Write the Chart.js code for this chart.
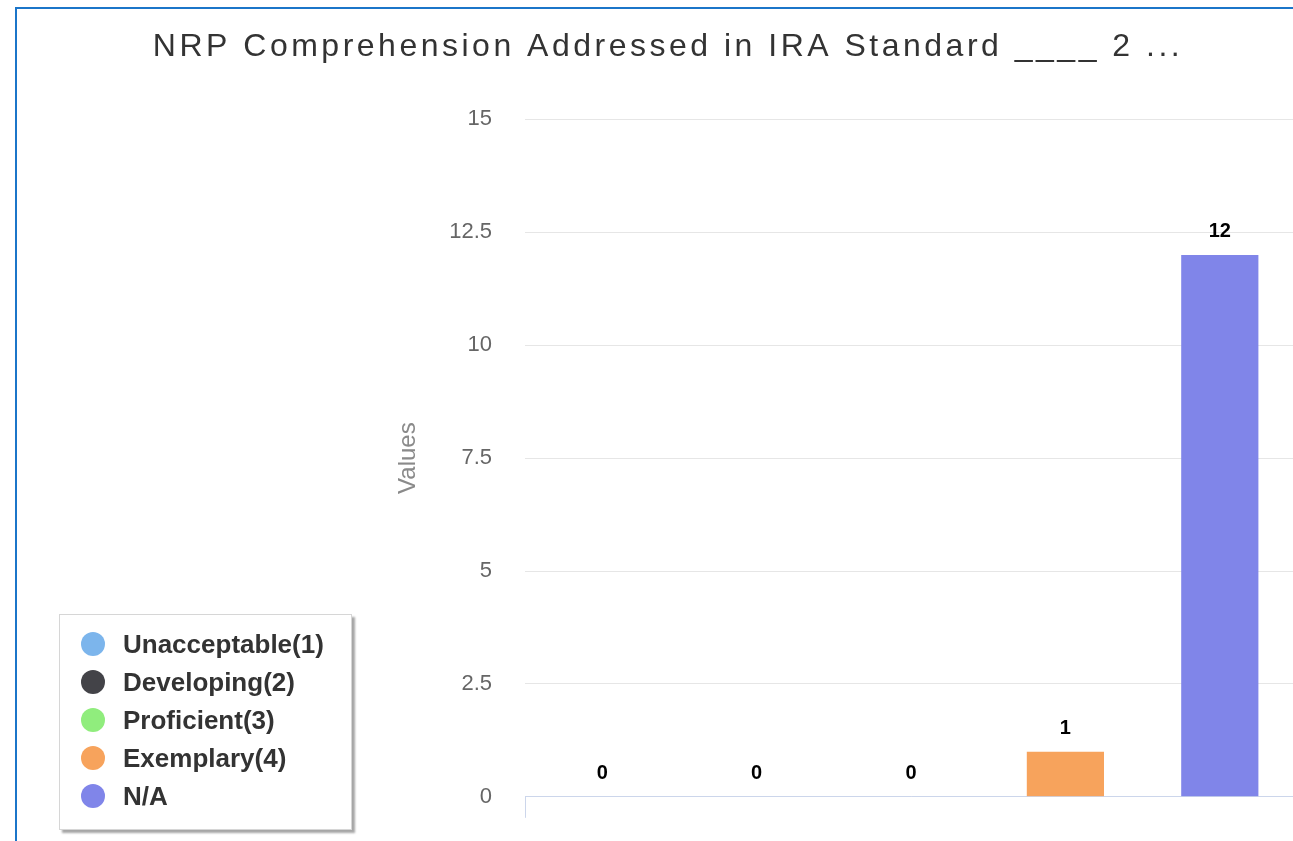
<!DOCTYPE html>
<html>
<head>
<meta charset="utf-8">
<script src="https://cdn.jsdelivr.net/npm/chart.js@4.4.0/dist/chart.umd.min.js"></script>
<style>
  html, body { margin: 0; padding: 0; background: #fff; overflow: hidden; }
  body { width: 1293px; height: 841px; position: relative; }
  #frame {
    position: absolute; left: 15px; top: 7px; width: 1400px; height: 900px;
    border-left: 2px solid #1b75c9; border-top: 2px solid #1b75c9;
  }
  #wrap { position: absolute; left: 17px; top: 9px; width: 1300px; height: 834px; }
  #legend {
    position: absolute; left: 59px; top: 614px; width: 293px; height: 216px;
    box-sizing: border-box; border: 1px solid #d6d6d6; background: #fff;
    box-shadow: 3px 3px 2px rgba(0,0,0,0.35);
    font: bold 26px "Liberation Sans", Arial, sans-serif; color: #333;
  }
  .item { position: absolute; left: 0; height: 30px; line-height: 30px; white-space: nowrap; }
  .dot { position: absolute; left: 21px; top: 3px; width: 24px; height: 24px; border-radius: 50%; }
  .lbl { position: absolute; left: 63px; top: 0; }
</style>
</head>
<body>
<div id="frame"></div>
<div id="wrap"><canvas id="chart"></canvas></div>
<div id="legend"></div>
<script>
const chartTitle = "NRP Comprehension Addressed in IRA Standard ____ 2 ...";
const categories = ["Unacceptable(1)", "Developing(2)", "Proficient(3)", "Exemplary(4)", "N/A"];
const counts = [0, 0, 0, 1, 12];
const barColors = ["#7cb5ec", "#434348", "#90ed7d", "#f7a35c", "#8085e9"];
const yMin = 0;
const yMax = 15;
const yStep = 2.5;

/* value labels above each bar */
const barLabels = {
  id: "barLabels",
  afterDatasetsDraw(chart) {
    const ctx = chart.ctx;
    const meta = chart.getDatasetMeta(0);
    ctx.save();
    ctx.font = "bold 20px 'Liberation Sans', Arial, sans-serif";
    ctx.fillStyle = "#000";
    ctx.textAlign = "center";
    ctx.textBaseline = "middle";
    meta.data.forEach((bar, i) => {
      ctx.fillText(String(counts[i]), bar.x, bar.y - 23);
    });
    ctx.restore();
  }
};

/* the original title is set a little wider than Arial, so space the letters */
const titleSpacing = {
  id: "titleSpacing",
  beforeDraw(chart) {
    const tb = chart.titleBlock;
    if (tb && !tb._spaced) {
      const draw = tb.draw.bind(tb);
      tb.draw = function () {
        chart.ctx.letterSpacing = "3.5px";
        draw();
        chart.ctx.letterSpacing = "0px";
      };
      tb._spaced = true;
    }
  }
};

new Chart(document.getElementById("chart"), {
  type: "bar",
  data: {
    labels: categories,
    datasets: [{
      data: counts,
      backgroundColor: barColors,
      borderWidth: 0,
      barPercentage: 0.5,
      categoryPercentage: 1
    }]
  },
  options: {
    responsive: true,
    maintainAspectRatio: false,
    animation: false,
    layout: { padding: { left: 22, right: 20, top: 0, bottom: 18 } },
    plugins: {
      legend: { display: false },
      tooltip: { enabled: false },
      title: {
        display: true,
        text: chartTitle,
        color: "#333",
        font: { family: "'Liberation Sans', Arial, sans-serif", size: 32, weight: "normal" },
        padding: { top: 19, bottom: 53 }
      }
    },
    scales: {
      x: {
        ticks: { display: false },
        grid: {
          drawOnChartArea: false,
          drawTicks: true,
          tickLength: 21,
          color: (c) => (c.index === 0 ? "#ccd6eb" : "rgba(0,0,0,0)")
        },
        border: { display: true, color: "#ccd6eb", width: 1 }
      },
      y: {
        min: yMin,
        max: yMax,
        ticks: {
          stepSize: yStep,
          padding: 33,
          color: "#666",
          font: { family: "'Liberation Sans', Arial, sans-serif", size: 22 }
        },
        grid: { color: "#e6e6e6", drawTicks: false },
        border: { display: false },
        title: {
          display: true,
          text: "Values",
          color: "#8a8a8a",
          padding: { top: 355, bottom: 4 },
          font: { family: "'Liberation Sans', Arial, sans-serif", size: 24 }
        },
        afterFit: (scale) => { scale.width = 486; }
      }
    }
  },
  plugins: [barLabels, titleSpacing]
});

/* legend box, built from the same arrays */
const legend = document.getElementById("legend");
categories.forEach((name, i) => {
  const row = document.createElement("div");
  row.className = "item";
  row.style.top = (29 + 38 * i - 15) + "px";
  row.innerHTML = `<span class="dot" style="background:${barColors[i]}"></span><span class="lbl">${name}</span>`;
  legend.appendChild(row);
});
</script>
</body>
</html>
